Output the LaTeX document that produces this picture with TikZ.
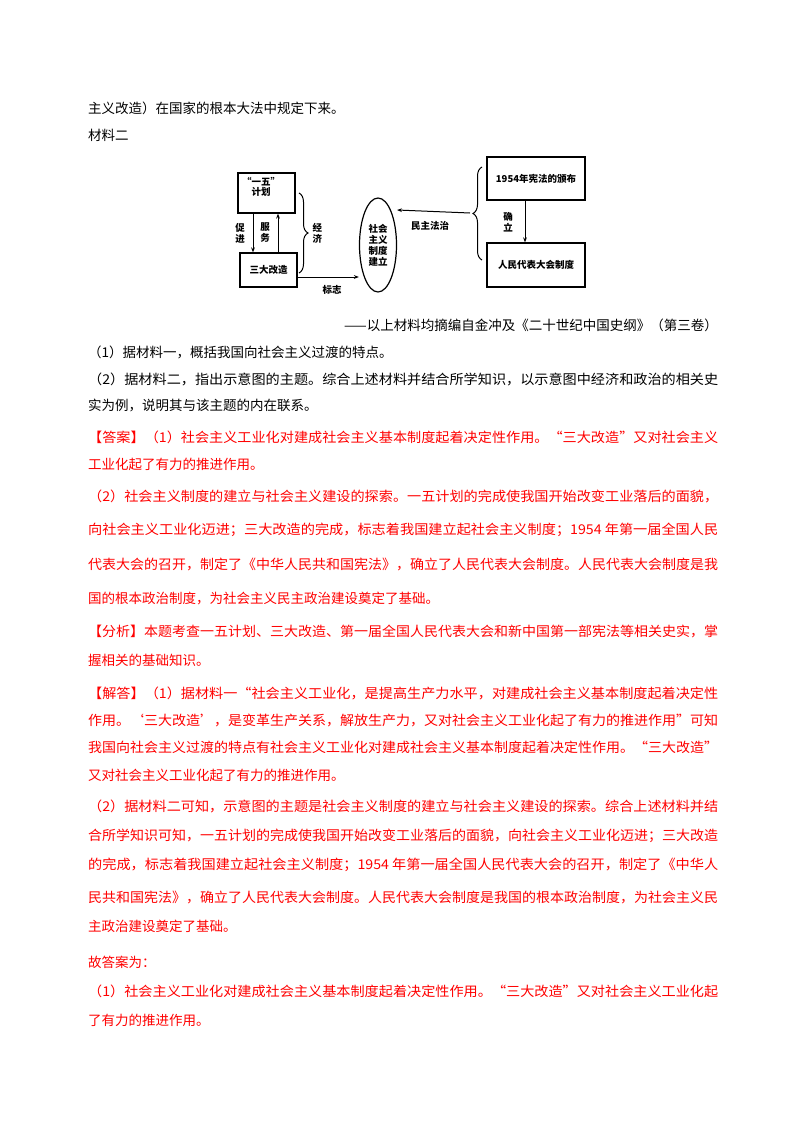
\documentclass[tikz,border=0pt]{standalone}
\usepackage{fontspec}
\setmainfont{Noto Sans CJK SC}
\usepackage{graphicx}
\usetikzlibrary{shapes.geometric,decorations.pathreplacing,arrows.meta}
\newcommand\fl[1]{\resizebox{630pt}{\height}{#1}}
\begin{document}
\begin{tikzpicture}[x=1pt,y=-1pt,
  ln/.style={anchor=west,inner sep=0pt,font=\fontsize{13.5}{14}\selectfont},
  rl/.style={ln,text=red},
  bx/.style={draw,line width=1.2pt,inner sep=0pt},
  lb/.style={font=\fontsize{9.5}{11}\selectfont\bfseries,inner sep=0pt,align=center},
  ar/.style={-{Stealth[length=5pt]},line width=1pt},
  br/.style={decorate,decoration={brace,amplitude=9pt},line width=1pt}]
\useasboundingbox (0,0) rectangle (800,1132);
\fill[white] (0,0) rectangle (800,1132);
\node[ln] (l1) at (88,108) {主义改造）在国家的根本大法中规定下来。};
\node[ln] (l2) at (88,135) {材料二};
% diagram
\node[bx,minimum width=57pt,minimum height=40pt] (a) at (266.5,193) {};
\node[lb,anchor=north west] (at) at (242,177) {“一五”\\[-1pt]计划};
\node[bx,minimum width=57pt,minimum height=34pt] (b) at (268.5,270) {};
\node[lb] (bt) at (b) {三大改造};
\node[draw,ellipse,line width=1.2pt,minimum width=37pt,minimum height=94pt] (e) at (378,245) {};
\node[lb] (et) at (e) {社会\\主义\\制度\\建立};
\node[bx,minimum width=98pt,minimum height=43pt] (c) at (536,178.5) {};
\node[lb] (ct) at (c) {1954年宪法的颁布};
\node[bx,minimum width=98pt,minimum height=44pt] (d) at (536,265) {};
\node[lb] (dt) at (d) {人民代表大会制度};
\draw[ar] (a.south -| 253,0) -- (b.north -| 253,0);
\draw[ar] (b.north -| 278,0) -- (a.south -| 278,0);
\node[lb] (cj) at (240,233) {促\\进};
\node[lb] (fw) at (265,233) {服\\务};
\coordinate (bt1) at (299,273);
\coordinate (bt2) at (299,193);
\draw[br] (bt2) -- (bt1) node[midway,right=13pt,lb] (jj) {经\\济};
\draw[ar] (b.east |- 0,277) -- (e.west |- 0,277);
\node[lb] (bz) at (332,290) {标志};
\coordinate (rb1) at (482,260);
\coordinate (rb2) at (482,167);
\draw[br] (rb1) -- (rb2);
\coordinate (rtip) at (470,213);
\draw[ar] (rtip) -- (397,210);
\node[lb] (mz) at (430,226) {民主法治};
\draw[ar] (c.south -| 525,0) -- (d.north -| 525,0);
\node[lb] (ql) at (508,222) {确\\立};
% text
\node[ln,anchor=east] (cit) at (718,325) {——以上材料均摘编自金冲及《二十世纪中国史纲》（第三卷）};
\node[ln] at (88,352) {（1）据材料一，概括我国向社会主义过渡的特点。};
\node[ln] at (88,379) {\fl{（2）据材料二，指出示意图的主题。综合上述材料并结合所学知识，以示意图中经济和政治的相关史}};
\node[ln] at (88,406) {实为例，说明其与该主题的内在联系。};
\node[rl] at (88,437) {\fl{【答案】（1）社会主义工业化对建成社会主义基本制度起着决定性作用。“三大改造”又对社会主义}};
\node[rl] at (88,464) {工业化起了有力的推进作用。};
\node[rl] at (88,496) {\fl{（2）社会主义制度的建立与社会主义建设的探索。一五计划的完成使我国开始改变工业落后的面貌，}};
\node[rl] at (88,530) {\fl{向社会主义工业化迈进；三大改造的完成，标志着我国建立起社会主义制度；1954 年第一届全国人民}};
\node[rl] at (88,564) {\fl{代表大会的召开，制定了《中华人民共和国宪法》，确立了人民代表大会制度。人民代表大会制度是我}};
\node[rl] at (88,598) {国的根本政治制度，为社会主义民主政治建设奠定了基础。};
\node[rl] at (88,631) {\fl{【分析】本题考查一五计划、三大改造、第一届全国人民代表大会和新中国第一部宪法等相关史实，掌}};
\node[rl] at (88,660) {握相关的基础知识。};
\node[rl] at (88,693) {\fl{【解答】（1）据材料一“社会主义工业化，是提高生产力水平，对建成社会主义基本制度起着决定性}};
\node[rl] at (88,720) {\fl{作用。‘三大改造’，是变革生产关系，解放生产力，又对社会主义工业化起了有力的推进作用”可知}};
\node[rl] at (88,747) {\fl{我国向社会主义过渡的特点有社会主义工业化对建成社会主义基本制度起着决定性作用。“三大改造”}};
\node[rl] at (88,775) {又对社会主义工业化起了有力的推进作用。};
\node[rl] at (88,806) {\fl{（2）据材料二可知，示意图的主题是社会主义制度的建立与社会主义建设的探索。综合上述材料并结}};
\node[rl] at (88,836) {\fl{合所学知识可知，一五计划的完成使我国开始改变工业落后的面貌，向社会主义工业化迈进；三大改造}};
\node[rl] at (88,865) {\fl{的完成，标志着我国建立起社会主义制度；1954 年第一届全国人民代表大会的召开，制定了《中华人}};
\node[rl] at (88,897) {\fl{民共和国宪法》，确立了人民代表大会制度。人民代表大会制度是我国的根本政治制度，为社会主义民}};
\node[rl] at (88,926) {主政治建设奠定了基础。};
\node[rl] at (88,962) {故答案为：};
\node[rl] at (88,991) {\fl{（1）社会主义工业化对建成社会主义基本制度起着决定性作用。“三大改造”又对社会主义工业化起}};
\node[rl] at (88,1020) {了有力的推进作用。};
\end{tikzpicture}
\end{document}
